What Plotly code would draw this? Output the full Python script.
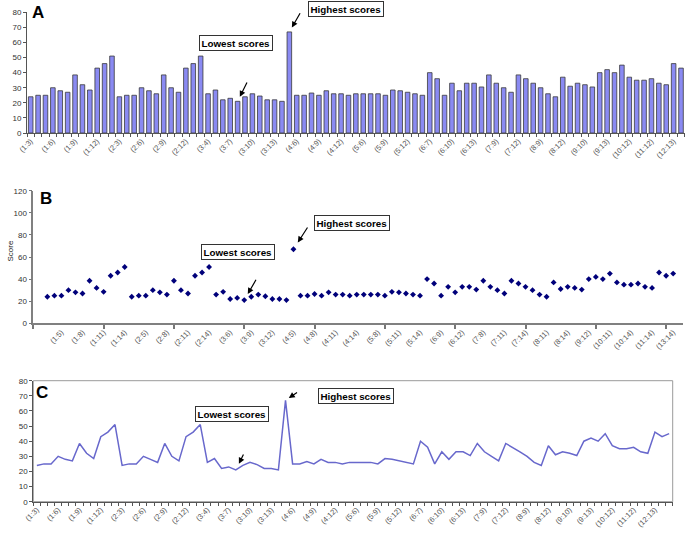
import plotly.graph_objects as go

# ---------------- data ----------------
categories = [
    "(1:3)", "(1:4)", "(1:5)", "(1:6)", "(1:7)", "(1:8)", "(1:9)", "(1:10)", "(1:11)", "(1:12)", "(1:13)", "(1:14)",
    "(2:3)", "(2:4)", "(2:5)", "(2:6)", "(2:7)", "(2:8)", "(2:9)", "(2:10)", "(2:11)", "(2:12)", "(2:13)", "(2:14)",
    "(3:4)", "(3:5)", "(3:6)", "(3:7)", "(3:8)", "(3:9)", "(3:10)", "(3:11)", "(3:12)", "(3:13)", "(3:14)",
    "(4:5)", "(4:6)", "(4:7)", "(4:8)", "(4:9)", "(4:10)", "(4:11)", "(4:12)", "(4:13)", "(4:14)",
    "(5:6)", "(5:7)", "(5:8)", "(5:9)", "(5:10)", "(5:11)", "(5:12)", "(5:13)", "(5:14)",
    "(6:7)", "(6:8)", "(6:9)", "(6:10)", "(6:11)", "(6:12)", "(6:13)", "(6:14)",
    "(7:8)", "(7:9)", "(7:10)", "(7:11)", "(7:12)", "(7:13)", "(7:14)",
    "(8:9)", "(8:10)", "(8:11)", "(8:12)", "(8:13)", "(8:14)",
    "(9:10)", "(9:11)", "(9:12)", "(9:13)", "(9:14)",
    "(10:11)", "(10:12)", "(10:13)", "(10:14)",
    "(11:12)", "(11:13)", "(11:14)",
    "(12:13)", "(12:14)",
    "(13:14)",
]

scores = [
    24, 25, 25, 30, 28, 27, 38.5, 32, 28.5, 43, 46, 51,
    24, 25, 25, 30, 28, 26, 38.5, 30, 27, 43, 46, 51,
    26, 28.5, 22, 23, 21, 24, 26, 24.5, 22, 22, 21,
    67, 25, 25, 26.5, 25, 28, 26, 26, 25, 26,
    26, 26, 26, 25, 28.5, 28, 27, 26, 25,
    40, 36, 25, 33, 28, 33, 33, 30.5,
    38.5, 33, 30, 27, 38.5, 36, 33,
    30, 26, 24, 37, 31, 33,
    32, 30.5, 40, 42, 40,
    45, 37, 35, 35,
    36, 33, 32,
    46, 43,
    45,
]

yticks_ac = [0, 10, 20, 30, 40, 50, 60, 70, 80]
yticks_b = [0, 20, 40, 60, 80, 100, 120]

x = list(range(len(categories)))
ticks_ac = x[0::3]
ticks_b = x[2::3]
labels_ac = [categories[i] for i in ticks_ac]
labels_b = [categories[i] for i in ticks_b]

i_max = scores.index(max(scores))
i_min = scores.index(min(scores))

W, H = 685, 540
FONT = "Liberation Sans, Arial, sans-serif"
AXC = "#555555"
TICKFONT = dict(family=FONT, size=8, color="#333333")
XTICKFONT = dict(family=FONT, size=7.5, color="#555555")


def px(v):
    return v / W


def py(v):
    return (H - v) / H


fig = go.Figure()

# A: bars
fig.add_trace(go.Bar(
    x=x, y=scores, xaxis="x", yaxis="y", width=0.62,
    marker=dict(color="#8a8af2", line=dict(color="#3a3a3a", width=0.8)),
    showlegend=False,
))
# B: markers
fig.add_trace(go.Scatter(
    x=x, y=scores, xaxis="x2", yaxis="y2", mode="markers",
    marker=dict(symbol="diamond", size=4.5, color="#00007a"),
    showlegend=False,
))
# C: line
fig.add_trace(go.Scatter(
    x=x, y=scores, xaxis="x3", yaxis="y3", mode="lines",
    line=dict(color="#6868cc", width=1.5),
    showlegend=False,
))

common_x = dict(showgrid=False, zeroline=False, showline=True, linecolor=AXC, linewidth=1,
                tickangle=-45, tickfont=XTICKFONT, ticks="", fixedrange=True, automargin=False)
common_y = dict(showgrid=False, zeroline=False, showline=True, linecolor=AXC, linewidth=1,
                ticks="outside", ticklen=3, tickcolor=AXC, tickfont=TICKFONT, fixedrange=True,
                automargin=False)

fig.update_layout(
    width=W, height=H,
    margin=dict(l=0, r=0, t=0, b=0),
    paper_bgcolor="white", plot_bgcolor="white",
    font=dict(family=FONT),
    xaxis=dict(domain=[px(27), 1.0], range=[-0.5, 88.54], anchor="y",
               tickmode="array", tickvals=ticks_ac, ticktext=labels_ac,
               minor=dict(tickmode="linear", tick0=-0.5, dtick=1, ticks="outside",
                          ticklen=3, tickcolor=AXC, showgrid=False),
               **common_x),
    yaxis=dict(domain=[py(133), py(12.3)], range=[0, 80], anchor="x",
               tickmode="array", tickvals=yticks_ac, **common_y),
    xaxis2=dict(domain=[px(33.3), px(683)], range=[-2, 90.4], anchor="y2",
                tickmode="array", tickvals=ticks_b, ticktext=labels_b,
                minor=dict(tickmode="linear", tick0=8, dtick=10, ticks="outside",
                           ticklen=4, tickcolor="#777777", tickwidth=1.5, showgrid=False),
                **{**common_x, "linecolor": "#808080", "linewidth": 1.6}),
    yaxis2=dict(domain=[py(323.3), py(190.7)], range=[0, 120], anchor="x2",
                tickmode="array", tickvals=yticks_b,
                **{**common_y, "linecolor": "#808080", "linewidth": 1.6, "tickcolor": "#777777"}),
    xaxis3=dict(domain=[px(33.3), px(672.7)], range=[-0.5, 89.5], anchor="y3",
                tickmode="array", tickvals=ticks_ac, ticktext=labels_ac,
                minor=dict(tickmode="linear", tick0=-0.5, dtick=1, ticks="outside",
                           ticklen=3, tickcolor=AXC, showgrid=False),
                **common_x),
    yaxis3=dict(domain=[py(501.7), py(380.7)], range=[0, 80], anchor="x3",
                tickmode="array", tickvals=yticks_ac, **common_y),
)

# plot-area border for C
fig.add_shape(type="rect", xref="x3 domain", yref="y3 domain", x0=0, x1=1, y0=0, y1=1,
              line=dict(color="#9a9a9a", width=1), layer="below")

# panel letters
for letter, cx, cy in [("A", 37.5, 12), ("B", 46, 198.5), ("C", 41.5, 392.5)]:
    fig.add_annotation(xref="paper", yref="paper", x=px(cx), y=py(cy), text="<b>%s</b>" % letter,
                       xanchor="center", yanchor="middle",
                       showarrow=False, font=dict(family=FONT, size=17, color="black"))

# y title for B
fig.add_annotation(xref="paper", yref="paper", x=px(9.5), y=py(251), text="Score", textangle=-90,
                   xanchor="center", yanchor="middle",
                   showarrow=False, font=dict(family=FONT, size=8, color="#222222"))

# text boxes
box_font = dict(family=FONT, size=9.8, color="black")
for txt, cx, cy in [("Lowest scores", 236, 42.5), ("Highest scores", 346.5, 8.8),
                    ("Highest scores", 352, 223.3), ("Lowest scores", 238, 251.7),
                    ("Highest scores", 355.5, 396), ("Lowest scores", 232.3, 413.7)]:
    fig.add_annotation(xref="paper", yref="paper", x=px(cx), y=py(cy), text="<b>%s</b>" % txt,
                       xanchor="center", yanchor="middle",
                       showarrow=False, font=box_font, bgcolor="white",
                       bordercolor="#333333", borderwidth=1, borderpad=1.5)

# arrows pointing at the extreme values
arrow_style = dict(showarrow=True, arrowhead=2, arrowsize=1, arrowwidth=1.2, arrowcolor="black", text="")
fig.add_annotation(xref="x", yref="y", x=i_max, y=scores[i_max], ax=11.6, ay=-20.2, standoff=5, **arrow_style)
fig.add_annotation(xref="x", yref="y", x=i_min, y=scores[i_min], ax=10.1, ay=-20.3, standoff=5, **arrow_style)
fig.add_annotation(xref="x2", yref="y2", x=i_max, y=scores[i_max], ax=15, ay=-23.3, standoff=8, **arrow_style)
fig.add_annotation(xref="x2", yref="y2", x=i_min, y=scores[i_min], ax=12.6, ay=-21.8, standoff=7, **arrow_style)
fig.add_annotation(xref="x3", yref="y3", x=i_max, y=scores[i_max], ax=13, ay=-9, standoff=4, **arrow_style)
fig.add_annotation(xref="x3", yref="y3", x=i_min, y=scores[i_min], ax=8.4, ay=-16.9, standoff=7, **arrow_style)

fig.write_html("out.html", config={"displayModeBar": False},
               post_script="document.body.style.margin='0';")
